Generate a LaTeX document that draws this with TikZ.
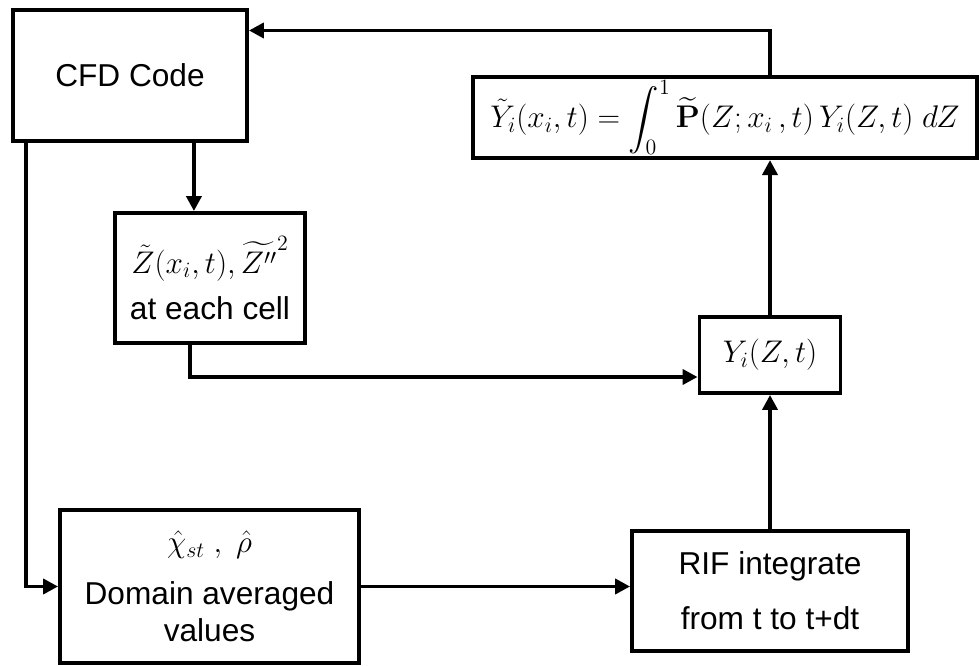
\RequirePackage{fix-cm}
\documentclass[tikz,border=0pt]{standalone}
\usepackage{amsmath}
\usepackage[no-math]{fontspec}
\setmainfont{Liberation Sans}
\usetikzlibrary{arrows.meta}

% math at its own size
\newcommand{\bigmath}[1]{{\fontsize{17.8}{21}\selectfont$#1$}}

\begin{document}
\begin{tikzpicture}[
    blockbox/.style={draw, line width=2.2pt, align=center, inner sep=2pt,
        font=\fontsize{18}{21}\selectfont},
    >={Triangle[length=0.3cm, width=0.3cm]},
    line width=2.2pt
    ]

    \useasboundingbox (0,0) rectangle (19.58,-13.32);

    \node[blockbox, minimum width=4.68cm, minimum height=2.62cm] (cfd) at (2.6,-1.51) {CFD Code};
    \node[blockbox, minimum width=3.8cm, minimum height=2.6cm] (zbox) at (4.2,-5.56)
        {\bigmath{\tilde{Z}(x_i,t),\widetilde{Z''}^{2}}\\[0.18cm]at each cell};
    \node[blockbox, minimum width=10.08cm, minimum height=1.62cm] (top) at (14.5,-2.35)
        {\bigmath{\tilde{Y}_i(x_i,t)=\displaystyle\int_0^1\widetilde{\mathbf{P}}(Z;x_i\,,t)\,Y_i(Z,t)\;dZ}};
    \node[blockbox, minimum width=2.82cm, minimum height=1.52cm] (yi) at (15.4,-7.1) {\bigmath{Y_i(Z,t)}};
    \node[blockbox, minimum width=5.98cm, minimum height=3.06cm] (dom) at (4.19,-11.73)
        {\bigmath{\hat{\chi}_{st}\ ,\ \hat{\rho}}\\[0.3cm]Domain averaged\\values};
    \node[blockbox, minimum width=5.52cm, minimum height=2.4cm] (rif) at (15.4,-11.82)
        {RIF integrate\\[0.36cm]from t to t+dt};

    \draw[->] ([xshift=-1.1cm]cfd.south east) -- ([xshift=-1.1cm]cfd.south east |- zbox.north);
    \draw[->] ([xshift=0.3cm]cfd.south west) |- (dom.west);
    \draw[->] ([xshift=-0.4cm]zbox.south) |- ([yshift=-0.44cm]yi.west);
    \draw[->] (dom.east) -- (dom.east -| rif.west);
    \draw[->] (rif.north) -- (yi.south);
    \draw[->] (yi.north) -- (yi.north |- top.south);
    \draw[->] (yi.north |- top.north) |- ([yshift=0.9cm]cfd.east);

\end{tikzpicture}
\end{document}
